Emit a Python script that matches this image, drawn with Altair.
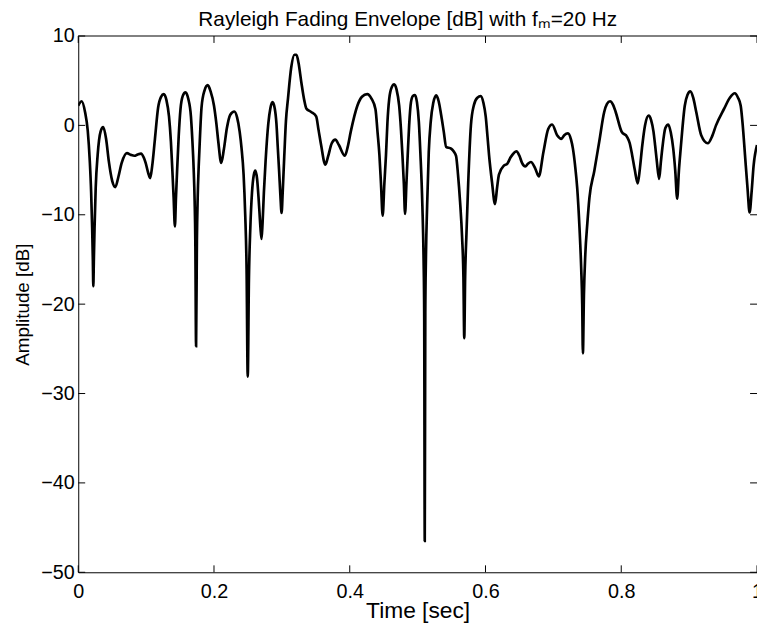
import altair as alt
import pandas as pd

time_s = [
    0.000, 0.005, 0.010, 0.014, 0.017, 0.019, 0.0205, 0.0215, 0.0222, 0.023, 0.024, 0.0257, 0.0286, 0.0329,
    0.0368, 0.041, 0.045, 0.050, 0.0547, 0.059, 0.064, 0.0717, 0.0775, 0.0828, 0.0875, 0.0925, 0.0965, 0.0993,
    0.103, 0.106, 0.109, 0.113, 0.1177, 0.122, 0.126, 0.130, 0.1337, 0.1365, 0.1385, 0.1405, 0.1424, 0.144,
    0.1458, 0.148, 0.1506, 0.154, 0.158, 0.162, 0.166, 0.168, 0.170, 0.1715, 0.1725, 0.1736, 0.1748, 0.176,
    0.1775, 0.1795, 0.1816, 0.186, 0.1908, 0.195, 0.200, 0.2035, 0.2063, 0.2107, 0.2145, 0.219, 0.224, 0.230,
    0.234, 0.2378, 0.2405, 0.2436, 0.246, 0.248, 0.2497, 0.2515, 0.2535, 0.2560, 0.2585, 0.2609, 0.2635, 0.2660,
    0.2685, 0.2700, 0.2715, 0.2735, 0.2760, 0.2800, 0.2830, 0.2862, 0.2895, 0.2920, 0.2940, 0.2960, 0.2978,
    0.2996, 0.3012, 0.3035, 0.3060, 0.3090, 0.3138, 0.3186, 0.3215, 0.3245, 0.3287, 0.3330, 0.3360, 0.3432,
    0.3505, 0.3540, 0.3578, 0.3641, 0.3680, 0.3735, 0.3787, 0.3840, 0.3928, 0.3970, 0.4015, 0.4112, 0.4180,
    0.4257, 0.4320, 0.4379, 0.4410, 0.4437, 0.4460, 0.4485, 0.4510, 0.4534, 0.4555, 0.4582, 0.4620, 0.4655,
    0.4690, 0.4728, 0.4755, 0.4776, 0.4797, 0.4815, 0.4835, 0.4854, 0.4875, 0.4902, 0.4930, 0.4960, 0.4990,
    0.5018, 0.5040, 0.5070, 0.5088, 0.5097, 0.5105, 0.5113, 0.5122, 0.5140, 0.5164, 0.5193, 0.5230, 0.5275,
    0.5310, 0.5348, 0.5385, 0.5420, 0.5493, 0.5530, 0.5566, 0.5595, 0.5625, 0.5655, 0.5675, 0.5687, 0.5700,
    0.5720, 0.5745, 0.5785, 0.5830, 0.5880, 0.5930, 0.5970, 0.6003, 0.6030, 0.6052, 0.6095, 0.6140, 0.6170,
    0.6198, 0.6271, 0.6320, 0.6368, 0.6456, 0.6500, 0.6538, 0.6587, 0.6625, 0.6669, 0.6732, 0.6785, 0.6853,
    0.6924, 0.6982, 0.7055, 0.7118, 0.7160, 0.7215, 0.7260, 0.7288, 0.7320, 0.7351, 0.7385, 0.7410, 0.7425,
    0.7435, 0.7450, 0.7470, 0.7500, 0.7531, 0.7603, 0.7676, 0.7749, 0.7790, 0.7835, 0.7880, 0.7918, 0.8005,
    0.8087, 0.8125, 0.8160, 0.8200, 0.8243, 0.8275, 0.8306, 0.8350, 0.8403, 0.8440, 0.8475, 0.8500, 0.8524,
    0.8558, 0.8585, 0.8606, 0.8650, 0.8693, 0.8730, 0.8766, 0.8795, 0.8824, 0.8850, 0.8877, 0.8936, 0.8975,
    0.9018, 0.9060, 0.9105, 0.9178, 0.9275, 0.9340, 0.9396, 0.9518, 0.9600, 0.9673, 0.9720, 0.9760, 0.9790,
    0.9823, 0.9860, 0.9891, 0.9920, 0.9950, 1.0000,
]
amp_db = [
    2.2, 2.7, 1.5, -0.6, -4.0, -7.5, -11.5, -15.0, -18.0, -15.0, -11.5, -7.0, -3.3, -0.7,
    -0.2, -1.5, -4.0, -6.2, -6.9, -5.8, -4.2, -3.1, -3.3, -3.4, -3.25, -3.15, -3.6, -4.2,
    -5.3, -5.9, -4.5, -1.5, 2.0, 3.2, 3.5, 2.8, 1.0, -1.8, -4.8, -8.0, -11.3, -8.0,
    -4.8, -1.2, 1.8, 3.3, 3.7, 3.0, 1.0, -1.5, -4.8, -8.5, -13.0, -24.7, -13.0, -8.0,
    -4.5, -1.0, 2.0, 3.9, 4.5, 3.8, 2.2, 0.2, -1.8, -4.2, -2.7, -0.3, 1.2, 1.55,
    0.9, -0.7, -2.5, -5.5, -10.0, -16.0, -28.1, -17.0, -11.5, -7.5, -5.6, -5.07, -6.0, -8.5,
    -11.5, -12.7, -11.0, -7.5, -4.0, 0.2, 1.9, 2.6, 1.9, 0.2, -2.5, -5.2, -7.8,
    -9.8, -7.5, -3.5, 0.5, 3.0, 6.5, 7.9, 7.9, 7.0, 4.8, 2.8, 1.9, 1.5,
    1.0, -0.5, -2.2, -4.4, -3.5, -2.0, -1.6, -2.2, -3.4, -2.4, -0.7, 2.2, 3.2,
    3.5, 3.0, 1.8, -0.8, -3.3, -6.5, -10.1, -6.5, -3.3, 0.3, 3.0, 4.3, 4.6,
    4.0, 2.2, -0.5, -3.3, -6.5, -9.9, -6.5, -3.3, 0.0, 2.6, 3.3, 3.4, 2.6,
    0.4, -3.0, -9.0, -15.0, -21.0, -46.5, -21.0, -15.0, -9.0, -3.0, 0.4, 2.5, 3.35,
    2.7, 1.1, -0.7, -2.4, -2.6, -2.9, -3.4, -5.5, -8.5, -12.5, -17.0, -23.8, -17.0,
    -12.0, -6.5, 0.0, 2.3, 3.1, 3.27, 2.5, 1.0, -1.3, -3.3, -6.3, -8.8, -7.0,
    -5.5, -4.5, -4.3, -3.6, -2.9, -3.4, -4.2, -4.6, -4.3, -4.1, -4.8, -5.7, -3.0,
    -0.4, 0.1, -1.1, -1.5, -1.1, -0.9, -1.6, -2.6, -4.5, -7.0, -11.5, -16.0, -20.0,
    -25.5, -19.0, -14.5, -11.0, -8.1, -5.1, -1.8, 1.5, 2.4, 2.7, 2.3, 1.5, -0.7,
    -1.3, -2.0, -3.3, -5.0, -6.5, -4.8, -2.5, 0.0, 1.1, 0.6, -0.7, -2.3, -4.0,
    -6.0, -4.0, -2.5, -0.3, 0.1, -0.8, -2.6, -5.0, -8.2, -5.0, -2.5, 2.2, 3.4,
    3.8, 3.1, 1.5, -1.1, -2.0, -1.2, 0.0, 1.9, 3.1, 3.6, 3.1, 2.2, 0.0,
    -3.3, -7.0, -9.75, -7.5, -4.5, -2.2,
]
x_ticks = [0, 0.2, 0.4, 0.6, 0.8, 1.0]
y_ticks = [-50, -40, -30, -20, -10, 0, 10]

W, H = 686, 542
TICK = 7
FONT = "Liberation Sans, Arial, Helvetica, sans-serif"

df = pd.DataFrame({"t": time_s, "db": amp_db})
xt = pd.DataFrame({"t": x_ticks})
yt = pd.DataFrame({"db": y_ticks})
one = pd.DataFrame({"k": [0]})

xscale = alt.Scale(domain=[0, 1], nice=False, zero=False)
yscale = alt.Scale(domain=[-50, 10], nice=False, zero=False)

xaxis = alt.Axis(
    values=x_ticks, format="~g", title="Time [sec]", labelPadding=9,
    labelFlush=False, labelOverlap=False, titleY=46, titleBaseline="alphabetic",
    titleFontSize=23)
yaxis = alt.Axis(
    values=y_ticks, format="d", title="Amplitude [dB]", labelPadding=4,
    labelFlush=False, labelOverlap=False, titleX=-56, titleBaseline="middle",
    titleFontSize=19)

X = alt.X("t:Q", scale=xscale, axis=xaxis)
Y = alt.Y("db:Q", scale=yscale, axis=yaxis)

line = alt.Chart(df).mark_line(
    color="black", strokeWidth=2.7, interpolate="monotone", clip=True
).encode(x=X, y=Y)

rule_style = dict(color="black", strokeWidth=1)
bottom_ticks = alt.Chart(xt).mark_rule(**rule_style).encode(
    x=X, y=alt.value(H), y2=alt.value(H - TICK))
top_ticks = alt.Chart(xt).mark_rule(**rule_style).encode(
    x=X, y=alt.value(0), y2=alt.value(TICK))
left_ticks = alt.Chart(yt).mark_rule(**rule_style).encode(
    y=Y, x=alt.value(0), x2=alt.value(TICK))
right_ticks = alt.Chart(yt).mark_rule(**rule_style).encode(
    y=Y, x=alt.value(W), x2=alt.value(W - TICK))
top_border = alt.Chart(one).mark_rule(**rule_style).encode(
    x=alt.value(0), x2=alt.value(W), y=alt.value(0))

chart = alt.layer(line, bottom_ticks, top_ticks, left_ticks, right_ticks, top_border).properties(
    width=W, height=H,
    padding={"left": 71, "top": 25, "right": 0, "bottom": 53},
    autosize=alt.AutoSizeParams(type="none"),
    title=alt.TitleParams(
        text="Rayleigh Fading Envelope [dB] with f\u2098=20 Hz",
        font=FONT, fontSize=21, fontWeight="normal", color="black",
        anchor="middle", dx=-10, dy=21, offset=0, baseline="alphabetic"),
).configure_view(stroke=None).configure_axis(
    grid=False, ticks=False, tickSize=0, domainColor="black", domainWidth=1,
    labelFont=FONT, labelFontSize=20, labelColor="black",
    titleFont=FONT, titleFontSize=21, titleFontWeight="normal", titleColor="black",
)

chart.save("out.html", embed_options={"renderer": "svg", "actions": False})
